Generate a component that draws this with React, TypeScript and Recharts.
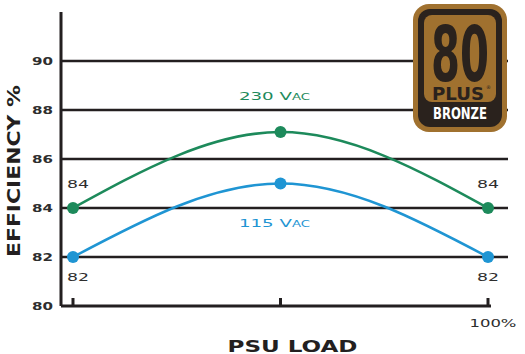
import React from 'react';
import {
  LineChart,
  Line,
  XAxis,
  YAxis,
  CartesianGrid,
  ReferenceLine,
  LabelList
} from 'recharts';

// load positions along the x axis (percent of full load, evenly spaced in the picture)
const loadPos = [0, 50, 100];
const eff230 = [84, 87.1, 84];
const eff115 = [82, 85, 82];
const yTicks = [80, 82, 84, 86, 88, 90];
const gridValues = [82, 84, 86, 88, 90];
const xTicks = [0, 50, 100];
const seriesNames = ['230 Vac', '115 Vac'];

const INK = '#231f20';
const GREEN = '#1d8a5b';
const BLUE = '#1f95d3';
const TEXT = '#2e2e2e';
const BRONZE = '#a0712f';
const DARK = '#2a221d';
const WIDE = '"DejaVu Sans", sans-serif';

const data = loadPos.map((x, i) => ({ load: x, v230: eff230[i], v115: eff115[i] }));

const YTick = (props: any) => {
  const { x, y, payload } = props;
  return (
    <text
      x={x}
      y={y}
      textAnchor="end"
      dominantBaseline="central"
      fontFamily={WIDE}
      fontWeight={600}
      fontSize={10}
      fill={TEXT}
      textLength={21}
      lengthAdjust="spacingAndGlyphs"
    >
      {payload.value}
    </text>
  );
};

const XTick = (props: any) => {
  const { x, y, payload } = props;
  return (
    <g>
      <line x1={x} x2={x} y1={y - 8} y2={y} stroke={INK} strokeWidth={3} />
      {payload.value === 100 && (
        <text
          x={x + 5}
          y={y + 17}
          textAnchor="middle"
          dominantBaseline="central"
          fontFamily={WIDE}
          fontSize={10}
          fill={TEXT}
          textLength={47}
          lengthAdjust="spacingAndGlyphs"
        >
          100%
        </text>
      )}
    </g>
  );
};

const XTitle = (props: any) => {
  const { viewBox } = props;
  return (
    <text
      x={viewBox.x + viewBox.width / 2 + 8}
      y={viewBox.y + 40}
      textAnchor="middle"
      dominantBaseline="central"
      fontFamily={WIDE}
      fontWeight="bold"
      fontSize={16}
      fill={INK}
      textLength={130}
      lengthAdjust="spacingAndGlyphs"
    >
      PSU LOAD
    </text>
  );
};

const YTitle = () => (
  <text
    x={14}
    y={171}
    transform="rotate(-90, 14, 171)"
    textAnchor="middle"
    dominantBaseline="central"
    fontFamily={WIDE}
    fontWeight="bold"
    fontSize={17}
    fill={INK}
    textLength={172}
    lengthAdjust="spacingAndGlyphs"
  >
    EFFICIENCY %
  </text>
);

const makePointLabel = (color: string, name: string, above: boolean) => (props: any) => {
  const { x, y, value, index } = props;
  if (index === 1) {
    return (
      <text
        x={x - 6}
        y={above ? y - 36 : y + 40}
        textAnchor="middle"
        dominantBaseline="central"
        fontFamily={WIDE}
        fontSize={11}
        fill={color}
        style={{ fontVariant: 'small-caps' }}
        textLength={71}
        lengthAdjust="spacingAndGlyphs"
      >
        {name}
      </text>
    );
  }
  return (
    <text
      x={index === 0 ? x + 5 : x}
      y={above ? y - 24 : y + 20}
      textAnchor="middle"
      dominantBaseline="central"
      fontFamily={WIDE}
      fontSize={10}
      fill={TEXT}
      textLength={22}
      lengthAdjust="spacingAndGlyphs"
    >
      {value}
    </text>
  );
};

const Badge = () => (
  <svg
    width={525}
    height={354}
    style={{ position: 'absolute', left: 0, top: 0, pointerEvents: 'none' }}
  >
    <rect x={413} y={4} width={94} height={128} rx={16} fill={BRONZE} />
    <rect x={418} y={9} width={84} height={118} rx={12} fill={DARK} />
    <rect x={424} y={15} width={72} height={87} rx={8} fill={BRONZE} />
    <text
      x={460}
      y={81}
      textAnchor="middle"
      fontFamily={WIDE}
      fontWeight="bold"
      fontSize={76}
      fill={DARK}
      textLength={58}
      lengthAdjust="spacingAndGlyphs"
    >
      80
    </text>
    <text
      x={458}
      y={100}
      textAnchor="middle"
      fontFamily={WIDE}
      fontWeight="bold"
      fontSize={17}
      fill={DARK}
      textLength={52}
      lengthAdjust="spacingAndGlyphs"
    >
      PLUS
    </text>
    <text x={486} y={89} fontFamily={WIDE} fontSize={5} fill={DARK}>®</text>
    <text
      x={460}
      y={119}
      textAnchor="middle"
      fontFamily={WIDE}
      fontWeight="bold"
      fontSize={15}
      fill="#ffffff"
      textLength={54}
      lengthAdjust="spacingAndGlyphs"
    >
      BRONZE
    </text>
  </svg>
);

const App: React.FC = () => {
  return (
    <div style={{ position: 'absolute', left: 0, top: 0, width: 525, height: 354, background: '#fff' }}>
      <LineChart
        width={525}
        height={354}
        data={data}
        margin={{ top: 12, right: 17, bottom: 0, left: 0 }}
      >
        <CartesianGrid
          horizontal
          vertical={false}
          horizontalValues={gridValues}
          stroke={INK}
          strokeWidth={2.5}
        />
        <XAxis
          dataKey="load"
          type="number"
          domain={[-2.89, 104.82]}
          ticks={xTicks}
          axisLine={false}
          tickLine={false}
          tickSize={0}
          tickMargin={0}
          height={48}
          tick={<XTick />}
          label={<XTitle />}
          interval={0}
        />
        <YAxis
          type="number"
          domain={[80, 92]}
          ticks={yTicks}
          width={61}
          axisLine={{ stroke: INK, strokeWidth: 3 }}
          tickLine={false}
          tickSize={0}
          tickMargin={8}
          tick={<YTick />}
          interval={0}
        />
        <ReferenceLine
          segment={[{ x: -2.89, y: 80 }, { x: 100.72, y: 80 }]}
          stroke={INK}
          strokeWidth={3}
          ifOverflow="visible"
        />
        <Line
          dataKey="v230"
          type="natural"
          stroke={GREEN}
          strokeWidth={2.5}
          dot={{ r: 6, fill: GREEN, stroke: 'none' }}
          isAnimationActive={false}
        >
          <LabelList dataKey="v230" content={makePointLabel(GREEN, seriesNames[0], true)} />
        </Line>
        <Line
          dataKey="v115"
          type="natural"
          stroke={BLUE}
          strokeWidth={2.5}
          dot={{ r: 6, fill: BLUE, stroke: 'none' }}
          isAnimationActive={false}
        >
          <LabelList dataKey="v115" content={makePointLabel(BLUE, seriesNames[1], false)} />
        </Line>
        <YTitle />
      </LineChart>
      <Badge />
    </div>
  );
};

export default App;
